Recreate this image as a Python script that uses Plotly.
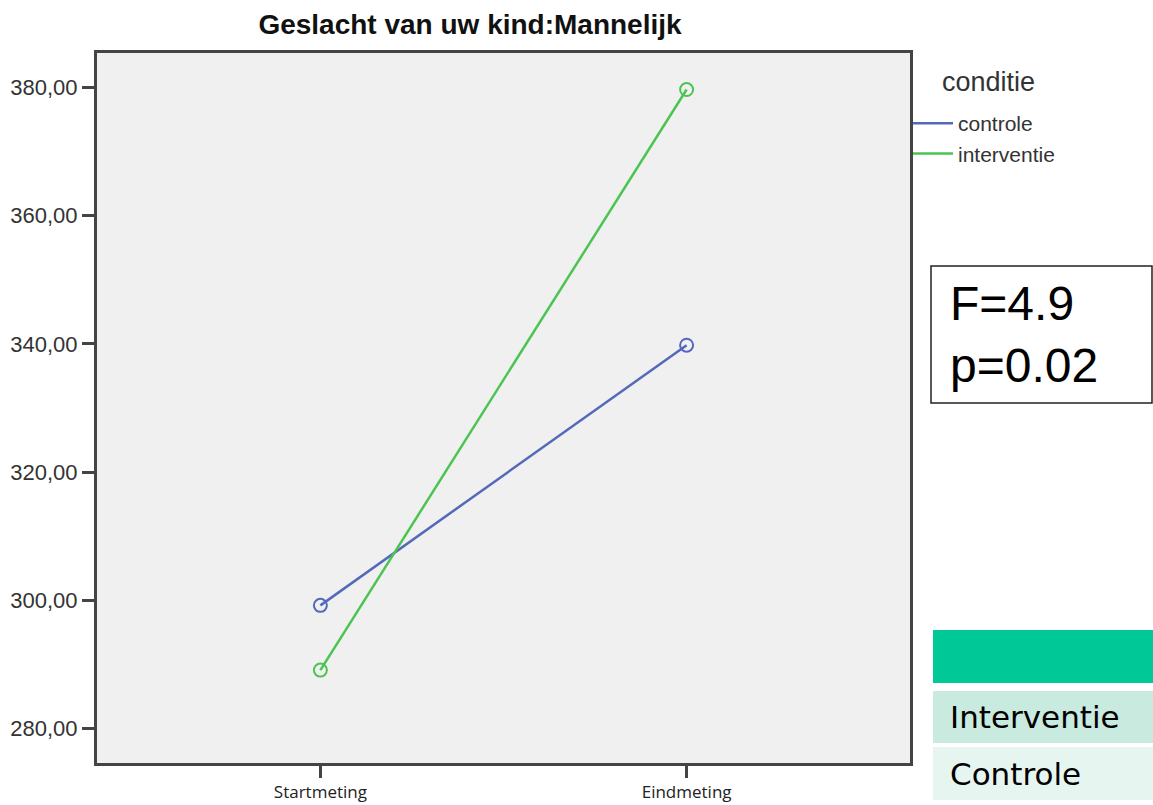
import plotly.graph_objects as go

# ----------------------------
# Data
# ----------------------------
metingen = ["Startmeting", "Eindmeting"]
controle = [299.2, 339.8]
interventie = [289.1, 379.7]
y_ticks = [280, 300, 320, 340, 360, 380]

BLUE = "#5469BA"
GREEN = "#4CC452"

W, H = 1153, 805
L, R, T, B = 97, 910, 53, 763  # plot area in pixels


def px_x(p):
    return (p - L) / (R - L)


def px_y(p):
    return (B - p) / (B - T)


fig = go.Figure()

for name, vals, col in [("controle", controle, BLUE), ("interventie", interventie, GREEN)]:
    fig.add_trace(go.Scatter(
        x=metingen, y=vals, mode="lines+markers", name=name,
        line=dict(color=col, width=2.5),
        marker=dict(symbol="circle-open", size=13, color=col, line=dict(width=2)),
        showlegend=False, hoverinfo="y"
    ))
    # legend-only line sample
    fig.add_trace(go.Scatter(
        x=[None], y=[None], mode="lines", name=name,
        line=dict(color=col, width=2.5), showlegend=True
    ))

# F / p box
fig.add_shape(type="rect", xref="paper", yref="paper",
              x0=px_x(931), x1=px_x(1152), y0=px_y(403), y1=px_y(266),
              line=dict(color="#222222", width=1.5), fillcolor="white")
fig.add_annotation(xref="paper", yref="paper", x=px_x(948), y=px_y(334),
                   text="F=4.9<br>p=0.02", showarrow=False, xanchor="left", yanchor="middle",
                   align="left", font=dict(family="Liberation Sans, Arial", size=48, color="black"))

# small table at bottom right
rows = [(630, 683, "#00C896", ""), (691, 743, "#C9EADE", "Interventie"), (747, 800, "#E6F5EF", "Controle")]
for y0, y1, col, txt in rows:
    fig.add_shape(type="rect", xref="paper", yref="paper",
                  x0=px_x(933), x1=px_x(1153), y0=px_y(y1), y1=px_y(y0),
                  line=dict(width=0), fillcolor=col)
    if txt:
        fig.add_annotation(xref="paper", yref="paper", x=px_x(948), y=px_y((y0 + y1) / 2),
                           text=txt, showarrow=False, xanchor="left", yanchor="middle",
                           font=dict(family="DejaVu Sans, Verdana", size=31, color="black"))

# legend title
fig.add_annotation(xref="paper", yref="paper", x=px_x(940), y=px_y(82),
                   text="conditie", showarrow=False, xanchor="left", yanchor="middle",
                   font=dict(family="Liberation Sans, Arial", size=27, color="#333333"))

fig.update_layout(
    width=W, height=H,
    margin=dict(l=L, r=W - R, t=T, b=H - B),
    paper_bgcolor="white",
    plot_bgcolor="#F0F0F0",
    separators=",.",
    title=dict(text="<b>Geslacht van uw kind:Mannelijk</b>", xref="paper", x=px_x(470),
               xanchor="center", y=1 - 24 / H, yanchor="middle",
               font=dict(family="Liberation Sans, Arial", size=28, color="#111111")),
    legend=dict(x=px_x(908), y=px_y(103), xanchor="left", yanchor="top",
                bgcolor="rgba(0,0,0,0)", tracegroupgap=0, itemwidth=40,
                font=dict(family="Liberation Sans, Arial", size=21, color="#333333")),
    xaxis=dict(range=[-0.61, 1.61], showgrid=False, zeroline=False, automargin=False,
               showline=True, mirror=True, linecolor="#444444", linewidth=3,
               ticks="outside", ticklen=12, tickwidth=3, tickcolor="#444444",
               ticklabelstandoff=0,
               tickfont=dict(family="Open Sans, Calibri", size=17, color="#222222")),
    yaxis=dict(range=[274.6, 385.4], tickvals=y_ticks, tickformat=".2f",
               showgrid=False, zeroline=False, automargin=False,
               showline=True, mirror=True, linecolor="#444444", linewidth=3,
               ticks="outside", ticklen=12, tickwidth=3, tickcolor="#444444",
               tickfont=dict(family="Liberation Sans, Arial", size=22, color="#333333")),
)

fig.write_html("out.html", config={"displayModeBar": False},
               post_script="document.body.style.margin='0';document.body.style.overflow='hidden';")
